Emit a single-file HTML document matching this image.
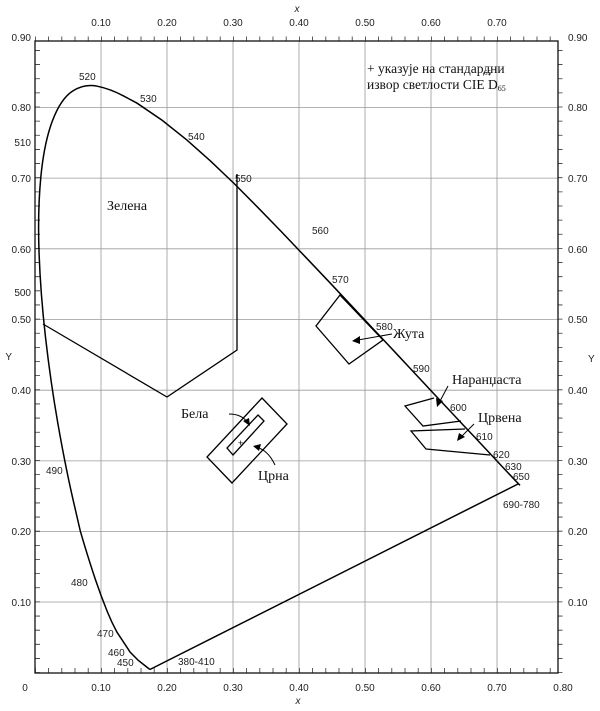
<!DOCTYPE html>
<html><head><meta charset="utf-8"><style>
html,body{margin:0;padding:0;background:#fff;}
svg{display:block;}
.ax{font-family:"Liberation Sans",sans-serif;font-size:10px;fill:#222;}
.wl{font-family:"Liberation Sans",sans-serif;font-size:10px;fill:#222;}
.tm{font-family:"Liberation Serif","DejaVu Serif",serif;font-size:14px;fill:#111;}
</style></head><body>
<svg width="600" height="711" viewBox="0 0 600 711" xmlns="http://www.w3.org/2000/svg">
<g stroke="#9a9a9a" stroke-width="0.8">
<line x1="101" y1="41" x2="101" y2="673"/><line x1="167" y1="41" x2="167" y2="673"/><line x1="233" y1="41" x2="233" y2="673"/><line x1="299" y1="41" x2="299" y2="673"/><line x1="365" y1="41" x2="365" y2="673"/><line x1="431" y1="41" x2="431" y2="673"/><line x1="497" y1="41" x2="497" y2="673"/>
<line x1="35" y1="602" x2="558" y2="602"/><line x1="35" y1="531.6" x2="558" y2="531.6"/><line x1="35" y1="460.9" x2="558" y2="460.9"/><line x1="35" y1="390.2" x2="558" y2="390.2"/><line x1="35" y1="319.5" x2="558" y2="319.5"/><line x1="35" y1="248.8" x2="558" y2="248.8"/><line x1="35" y1="178.1" x2="558" y2="178.1"/><line x1="35" y1="107.4" x2="558" y2="107.4"/>
</g>
<g stroke="#333" fill="none">
<line x1="35" y1="39" x2="558" y2="39" stroke-width="5" stroke-dasharray="0.8 12.4"/>
<line x1="35" y1="670.5" x2="558" y2="670.5" stroke-width="5" stroke-dasharray="0.8 12.4"/>
<line x1="37.5" y1="673" x2="37.5" y2="41" stroke-width="5" stroke-dasharray="0.8 13.34"/>
<line x1="560" y1="673" x2="560" y2="41" stroke-width="5" stroke-dasharray="0.8 13.34"/>
</g>
<rect x="35" y="41" width="523" height="632" fill="none" stroke="#111" stroke-width="1.3"/>
<g class="ax" text-anchor="middle">
<text x="101" y="26">0.10</text><text x="167" y="26">0.20</text><text x="233" y="26">0.30</text><text x="299" y="26">0.40</text><text x="365" y="26">0.50</text><text x="431" y="26">0.60</text><text x="497" y="26">0.70</text>
<text x="25" y="691">0</text><text x="101" y="691">0.10</text><text x="167" y="691">0.20</text><text x="233" y="691">0.30</text><text x="299" y="691">0.40</text><text x="365" y="691">0.50</text><text x="431" y="691">0.60</text><text x="497" y="691">0.70</text><text x="563" y="691">0.80</text>
<text x="297" y="12" font-style="italic">x</text><text x="298" y="704" font-style="italic">x</text>
</g>
<g class="ax" text-anchor="end">
<text x="31" y="41">0.90</text><text x="31" y="111">0.80</text><text x="31" y="146">510</text><text x="31" y="182">0.70</text><text x="31" y="253">0.60</text><text x="31" y="296">500</text><text x="31" y="323">0.50</text><text x="31" y="394">0.40</text><text x="31" y="465">0.30</text><text x="31" y="535">0.20</text><text x="31" y="606">0.10</text>
<text x="12" y="360">Y</text>
</g>
<g class="ax">
<text x="568" y="41">0.90</text><text x="568" y="111">0.80</text><text x="568" y="182">0.70</text><text x="568" y="253">0.60</text><text x="568" y="323">0.50</text><text x="568" y="394">0.40</text><text x="568" y="465">0.30</text><text x="568" y="535">0.20</text><text x="568" y="606">0.10</text>
<text x="588" y="362">Y</text>
</g>
<path fill="none" stroke="#000" stroke-width="1.5" d="M149.9,669.5 L138.4,660.5 L130.0,652.0 Q123.5,642 116.9,632.1 Q111.5,622 107.3,611.6 Q101,596 95.3,579.2 Q87.5,556 80.3,531.1 L72.6,497.7 Q65.0,464.4 57.75,422.8 Q50.5,381.2 45.45,336.8 Q40.4,292.4 39.0,251.25 Q37.6,210.1 40.9,176.35 Q44.2,142.6 52.45,120.75 Q60.7,98.9 72.35,91.2 Q84.0,83.5 97.2,86.2 Q110.4,88.9 123.75,96.05 L137.1,103.2 L162.3,120.4 L186.5,139.7 L210.4,160.9 L234.1,183.5 L257.6,207.2 L281.2,231.5 L304.7,256.2 L328.1,280.8 L351.0,305.2 L373.3,329.0 L394.6,351.7 L414.6,373.1 L432.9,392.7 L448.8,409.6 L462.8,424.6 L474.4,436.9 L491.4,455.0 L502.2,466.6 L514.2,479.3 L520,485.4"/>
<line x1="149.9" y1="669.5" x2="518" y2="484" stroke="#000" stroke-width="1.5"/>
<g class="wl">
<text x="79" y="80">520</text><text x="140" y="102">530</text><text x="188" y="140">540</text><text x="235" y="182">550</text><text x="312" y="234">560</text><text x="332" y="283">570</text><text x="376" y="330">580</text><text x="413" y="372">590</text><text x="450" y="411">600</text><text x="476" y="440">610</text><text x="493" y="458">620</text><text x="505" y="470">630</text><text x="513" y="480">650</text><text x="503" y="508">690-780</text>
<text x="46" y="474">490</text><text x="71" y="586">480</text><text x="97" y="637">470</text><text x="108" y="656">460</text><text x="117" y="666">450</text><text x="178" y="665">380-410</text>
</g>
<g fill="none" stroke="#000" stroke-width="1.3">
<polyline points="237,174 237,350 167,397 43,324"/>
<polygon points="340,295 316,326 349,364 383,340"/>
<polygon points="262,398 287,424 232,483 207,457"/>
<polygon points="258,415 264,421 233,455 227,448"/>
<polyline points="434,398 405,406 423,426 461,421"/>
<polyline points="465,429 411,431 426,449 490,455"/>
</g>
<g stroke="#000" stroke-width="1" fill="none">
<line x1="392" y1="334" x2="358" y2="340"/>
<path d="M229,414 Q242,414 248,423"/>
<path d="M275,465 Q268,450 256,447"/>
<line x1="448" y1="386" x2="439" y2="403"/>
<line x1="474" y1="424" x2="460" y2="438"/>
</g>
<g fill="#000">
<polygon points="352,341 360,336 360,344"/>
<polygon points="250,426 243,421 249,418"/>
<polygon points="253,446 261,444 259,451"/>
<polygon points="437,407 436,398 443,401"/>
<polygon points="457,441 459,433 465,437"/>
</g>
<text x="238" y="446" font-size="9" font-family="Liberation Sans,sans-serif">+</text>
<g class="tm">
<text x="107" y="210">Зелена</text>
<text x="393" y="338">Жута</text>
<text x="181" y="418">Бела</text>
<text x="258" y="480">Црна</text>
<text x="452" y="384">Наранџаста</text>
<text x="478" y="422">Црвена</text>
<text x="367" y="73" font-size="13.5">+ указује на стандардни</text>
<text x="367" y="89" font-size="13.5">извор светлости  CIE D<tspan font-size="8" dy="2">65</tspan></text>
<text x="484" y="75" font-size="7">65</text>
</g>
</svg>
</body></html>
